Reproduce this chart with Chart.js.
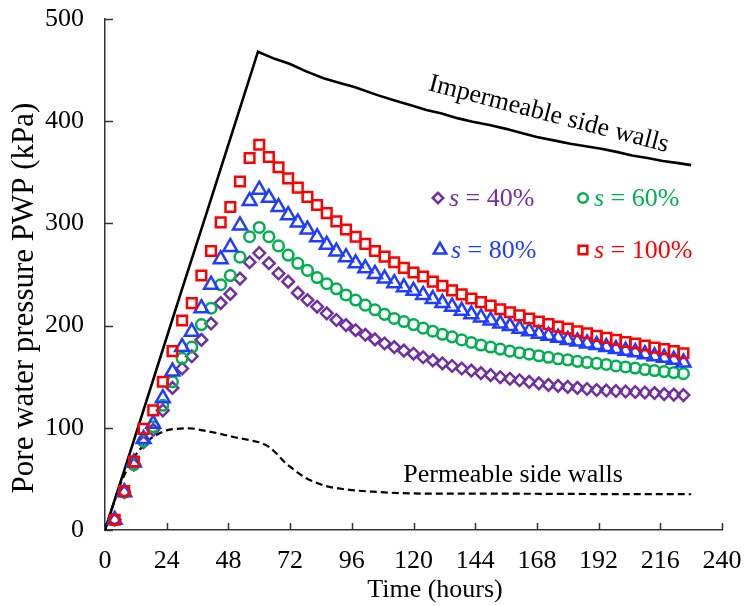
<!DOCTYPE html>
<html>
<head>
<meta charset="utf-8">
<script src="https://cdn.jsdelivr.net/npm/chart.js@4.4.1/dist/chart.umd.min.js"></script>
<style>
  html, body { margin: 0; padding: 0; background: #fff; }
  #wrap { width: 745px; height: 606px; position: relative; }
</style>
</head>
<body>
<div id="wrap"><canvas id="pwp" width="745" height="606"></canvas></div>
<script>
// Sampling times of the marker series (hours)
const markerTimes = [3.75, 7.5, 11.25, 15, 18.75, 22.5, 26.25, 30, 33.75, 37.5,
  41.25, 45, 48.75, 52.5, 56.25, 60, 63.75, 67.5, 71.25, 75,
  78.75, 82.5, 86.25, 90, 93.75, 97.5, 101.25, 105, 108.75, 112.5,
  116.25, 120, 123.75, 127.5, 131.25, 135, 138.75, 142.5, 146.25, 150,
  153.75, 157.5, 161.25, 165, 168.75, 172.5, 176.25, 180, 183.75, 187.5,
  191.25, 195, 198.75, 202.5, 206.25, 210, 213.75, 217.5, 221.25, 225];

// Pore water pressure (kPa) for each saturation level s
const pwpS40 = [10, 37, 64, 86, 98, 117, 139, 158, 170, 186,
  202, 222, 231, 246, 262, 271, 261, 251, 243, 232,
  225, 218.5, 212, 205.5, 200.5, 195.5, 191, 186.5, 182.5, 179,
  175.5, 172.5, 169, 166, 163, 160.5, 158, 156, 153.5, 151.5,
  149.5, 148, 146.5, 145, 143.5, 142, 141, 140, 139, 138,
  137, 136.5, 136, 135.5, 135, 134.5, 134, 133, 132.5, 132];
const pwpS60 = [10, 37, 64, 87, 101, 122, 145, 168, 179, 201,
  217, 240, 249, 267, 287, 296, 287, 278, 269, 261,
  254, 247, 241, 236, 230, 225, 220, 215.5, 211, 207,
  204, 201, 197.5, 194.5, 191.5, 189, 186, 183.5, 181, 179,
  177, 175, 173.5, 172, 170.5, 169, 167.5, 166.5, 165, 164,
  163, 162, 160.5, 159.5, 158.5, 157, 156, 155, 154, 153];
const pwpS80 = [10, 37, 66, 89, 104, 129, 155, 179, 194, 217,
  240, 265, 277, 298, 322, 333, 325, 316, 308, 301,
  294, 286.5, 279, 272.5, 267, 261, 256, 250.5, 246, 241.5,
  237.5, 234, 230, 226, 222, 218.5, 214.5, 211, 208, 205,
  202, 199.5, 197, 194.5, 192, 190, 188, 186, 184.5, 182.5,
  181, 179, 177, 175.5, 174, 172, 170, 168.5, 166.5, 164];
const pwpS100 = [10, 38, 67, 99, 117, 145, 175, 205, 222, 249,
  273, 301, 316, 341, 364, 377, 365, 355, 344, 335,
  326, 318, 310, 302, 294, 287, 280, 273, 267.5, 262,
  256.5, 252, 248, 243, 239, 234.5, 230.5, 226.5, 223, 219.5,
  216, 213, 210, 207, 204, 201.5, 199, 197, 194.5, 192.5,
  190, 188, 186, 184, 182.5, 180.5, 178.5, 177, 175, 173];

// Reference curves: impermeable and permeable side walls
const impermeableTime = [0, 10, 20, 30, 40, 50, 59.5, 66, 72, 78, 85, 92, 97, 106, 113, 119,
  125, 131, 137, 143, 150, 156, 162, 168, 175, 181, 187, 193, 199, 205, 211, 217, 223, 228];
const impermeablePwp = [0, 78, 157, 236, 314, 393, 468, 461, 456, 449, 442, 437, 433.5, 425.5, 420, 415.5,
  411, 407.5, 403, 399.5, 396, 392.5, 388.5, 384.5, 381, 378, 375.5, 373, 370, 366.5, 364, 361, 359, 357];
const permeableTime = [0, 6, 11, 14, 17, 20, 24, 28, 33, 38, 44, 50, 54, 58, 61, 64, 67, 70,
  74, 78, 82, 86, 90, 96, 104, 116, 135, 160, 190, 228];
const permeablePwp = [0, 45, 70, 80, 88, 93, 97.5, 99, 99.5, 97.5, 94.5, 91, 89, 87, 85, 81, 74, 66,
  58, 51, 46.5, 43, 41, 39, 37.5, 36, 35.5, 35.5, 35.2, 35];

// Axis ticks
const xTicks = [0, 24, 48, 72, 96, 120, 144, 168, 192, 216, 240];
const yTicks = [0, 100, 200, 300, 400, 500];

// Series labels and styles
const seriesNames = ['40%', '60%', '80%', '100%'];
const seriesColors = ['#7030A0', '#00B050', '#1F3CFF', '#FF0000'];
const seriesShapes = ['rectRot', 'circle', 'triangle', 'rect'];
const seriesRadius = [5.8, 5.3, 8, 6.8];
const seriesValues = [pwpS40, pwpS60, pwpS80, pwpS100];

const SERIF = "'Liberation Serif', 'Times New Roman', serif";

const toXY = (xs, ys) => xs.map((x, i) => ({ x: x, y: ys[i] }));

const markerSets = seriesValues.map((vals, i) => ({
  label: 's = ' + seriesNames[i],
  data: toXY(markerTimes, vals),
  showLine: false,
  pointStyle: seriesShapes[i],
  pointRadius: seriesRadius[i],
  pointHoverRadius: seriesRadius[i],
  pointBorderWidth: 2.5,
  pointBorderColor: seriesColors[i],
  pointBackgroundColor: 'rgba(0,0,0,0)',
  order: 3 - i,
  clip: false
}));

const lineSets = [
  {
    label: 'Impermeable side walls',
    data: toXY(impermeableTime, impermeablePwp),
    showLine: true, pointRadius: 0, borderColor: '#000', borderWidth: 2.6,
    tension: 0, order: 10
  },
  {
    label: 'Permeable side walls',
    data: toXY(permeableTime, permeablePwp),
    showLine: true, pointRadius: 0, borderColor: '#000', borderWidth: 2.2,
    borderDash: [7, 4], tension: 0.3, cubicInterpolationMode: 'monotone', order: 11
  }
];

// Inward tick marks, legend block, curve annotations and axis titles
const decorations = {
  id: 'decorations',
  beforeDatasetsDraw(chart) {
    const { ctx, scales: { x, y } } = chart;
    ctx.save();
    ctx.strokeStyle = '#333';
    ctx.lineWidth = 1.5;
    ctx.beginPath();
    xTicks.forEach(v => {
      const px = Math.round(x.getPixelForValue(v)) + 0.5;
      ctx.moveTo(px, y.bottom);
      ctx.lineTo(px, y.bottom - 7);
    });
    yTicks.forEach(v => {
      const py = Math.round(y.getPixelForValue(v)) + 0.5;
      ctx.moveTo(x.left, py);
      ctx.lineTo(x.left + 8, py);
    });
    ctx.stroke();
    ctx.restore();
  },
  afterDatasetsDraw(chart) {
    const { ctx } = chart;
    ctx.save();
    ctx.textBaseline = 'alphabetic';

    // legend entries: marker + italic s + " = xx%"
    const legendPos = [[438, 198], [583, 198], [440, 250], [583, 250]];
    seriesNames.forEach((name, i) => {
      const [mx, my] = legendPos[i];
      ctx.strokeStyle = seriesColors[i];
      ctx.fillStyle = 'rgba(0,0,0,0)';
      ctx.lineWidth = 2.5;
      Chart.helpers.drawPoint(ctx, {
        pointStyle: seriesShapes[i], radius: seriesRadius[i] * 0.9, rotation: 0, borderWidth: 2.5
      }, mx, my);
      ctx.fillStyle = seriesColors[i];
      let tx = mx + 11;
      ctx.font = 'italic 26px ' + SERIF;
      ctx.textAlign = 'left';
      ctx.fillText('s', tx, my + 8);
      tx += ctx.measureText('s').width;
      ctx.font = '26px ' + SERIF;
      ctx.fillText(' = ' + name, tx, my + 8);
    });

    // curve annotations
    ctx.fillStyle = '#000';
    ctx.font = '26px ' + SERIF;
    ctx.textAlign = 'center';
    ctx.save();
    ctx.translate(547, 121);
    ctx.rotate(14.5 * Math.PI / 180);
    ctx.fillText('Impermeable side walls', 0, 0);
    ctx.restore();
    ctx.fillText('Permeable side walls', 513, 482);

    // axis titles
    ctx.fillText('Time (hours)', 435, 597);
    ctx.save();
    ctx.translate(33, 298);
    ctx.rotate(-Math.PI / 2);
    ctx.font = '31px ' + SERIF;
    ctx.fillText('Pore water pressure PWP (kPa)', 0, 0);
    ctx.restore();

    ctx.restore();
  }
};

// Plot area is fixed by the layout padding and the fitted axis sizes;
// the automatic label overhang padding of each scale is dropped.
const fixPadding = s => { s.paddingTop = 0; s.paddingBottom = 0; s.paddingLeft = 0; s.paddingRight = 0; };

new Chart(document.getElementById('pwp'), {
  type: 'scatter',
  data: { datasets: [...markerSets, ...lineSets] },
  options: {
    responsive: false,
    animation: false,
    devicePixelRatio: 1,
    layout: { padding: { top: 19, right: 23, left: 0, bottom: 0 } },
    plugins: { legend: { display: false }, tooltip: { enabled: false } },
    scales: {
      x: {
        type: 'linear', min: 0, max: 240,
        afterBuildTicks: s => { s.ticks = xTicks.map(v => ({ value: v })); },
        ticks: { font: { family: SERIF, size: 26 }, color: '#000', padding: 8, maxRotation: 0, autoSkip: false },
        grid: { display: false },
        border: { display: true, color: '#333', width: 1.5 },
        afterFit: s => { s.height = 76; fixPadding(s); }
      },
      y: {
        type: 'linear', min: 0, max: 500,
        afterBuildTicks: s => { s.ticks = yTicks.map(v => ({ value: v })); },
        ticks: { font: { family: SERIF, size: 26 }, color: '#000', padding: 13 },
        grid: { display: false },
        border: { display: true, color: '#333', width: 1.5 },
        afterFit: s => { s.width = 105; fixPadding(s); }
      }
    }
  },
  plugins: [decorations]
});
</script>
</body>
</html>
